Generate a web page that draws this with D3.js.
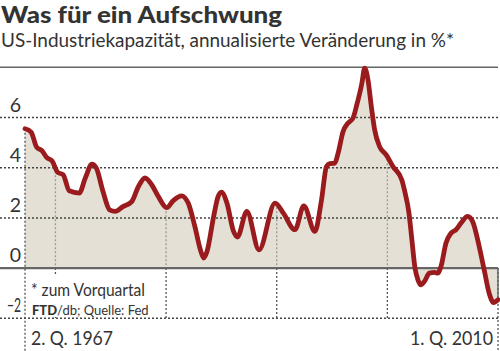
<!DOCTYPE html>
<html><head><meta charset="utf-8">
<script src="https://cdn.jsdelivr.net/npm/d3@7"></script>
<style>body{margin:0;background:#fff}svg{display:block}text{font-family:Lato,"Open Sans",sans-serif;fill:#333}</style>
</head><body>
<script>
const years = [1967.25,1967.8,1968.3,1968.8,1969.2,1969.7,1970.2,1970.7,1971.25,1972.15,1972.7,1973.3,1973.7,1974.3,1974.9,1975.4,1976.1,1976.9,1977.5,1978.1,1978.7,1979.3,1980.05,1980.65,1981.4,1982.0,1982.6,1983.1,1983.4,1983.7,1984.3,1984.7,1985.0,1985.5,1986.1,1986.45,1987.3,1988.4,1989.85,1990.6,1991.65,1992.45,1993.45,1994.05,1994.5,1994.8,1995.25,1995.55,1996.0,1996.45,1996.9,1997.2,1997.7,1997.95,1998.25,1998.55,1998.85,1999.3,1999.9,2000.5,2001.3,2001.6,2001.95,2002.2,2002.5,2002.75,2003.05,2003.35,2003.8,2004.25,2004.55,2004.85,2005.3,2005.75,2006.2,2006.65,2007.25,2007.7,2008.3,2008.75,2009.2,2009.6,2010.0];
const values = [5.55,5.42,4.82,4.67,4.41,4.27,3.82,3.72,3.08,2.99,3.59,4.14,3.98,3.05,2.32,2.26,2.45,2.65,3.25,3.59,3.32,2.85,2.41,2.69,2.88,2.59,1.66,0.73,0.40,0.66,2.06,2.85,3.03,2.59,1.46,1.24,2.26,0.73,2.59,2.19,1.53,2.48,1.46,2.72,4.05,4.16,4.18,4.58,5.44,5.78,5.98,6.44,7.37,7.97,7.5,6.44,5.51,4.84,4.51,4.05,3.52,3.0,2.2,1.2,0.0,-0.45,-0.67,-0.53,-0.2,-0.17,-0.2,0.07,1.0,1.39,1.53,1.79,2.06,1.86,0.86,-0.07,-1.0,-1.37,-1.26];
const yTicks = [-2,0,2,4,6];
const decades = [1970,1980,1990,2000];
const startLabel = "2. Q. 1967";
const endLabel = "1. Q. 2010";
const title = "Was für ein Aufschwung";
const subtitle = "US-Industriekapazität, annualisierte Veränderung in %*";

const W=500,H=351;
const data = years.map((y,i)=>({t:y,v:values[i]}));
const x = d3.scaleLinear().domain([1967.25,2010]).range([25,498]);
const y = d3.scaleLinear().domain([-2,8]).range([318.3,67.3]);
const svg = d3.select("body").append("svg").attr("width",W).attr("height",H);

svg.append("text").attr("x",1).attr("y",22.5).attr("font-size",22.5).attr("font-weight",900)
  .attr("textLength",281).attr("lengthAdjust","spacingAndGlyphs").text(title);
svg.append("text").attr("x",1).attr("y",47).attr("font-size",19.5)
  .attr("textLength",453).attr("lengthAdjust","spacingAndGlyphs").text(subtitle);

const curve = d3.curveMonotoneX;
const area = d3.area().x(d=>x(d.t)).y0(y(0)).y1(d=>y(d.v)).curve(curve);
const line = d3.line().x(d=>x(d.t)).y(d=>y(d.v)).curve(curve);

svg.append("clipPath").attr("id","ac").append("path").attr("d",area(data));
svg.append("path").attr("d",area(data)).attr("fill","#e5e0d6");

svg.append("g").attr("clip-path","url(#ac)").selectAll("line").data(decades).join("line")
  .attr("x1",d=>x(d)).attr("x2",d=>x(d)).attr("y1",y(8)).attr("y2",y(0))
  .attr("stroke","#999").attr("stroke-width",1.3).attr("stroke-dasharray","2,2");
svg.append("g").selectAll("line").data(decades).join("line")
  .attr("x1",d=>x(d)).attr("x2",d=>x(d)).attr("y1",y(0)).attr("y2",y(-2))
  .attr("stroke","#555").attr("stroke-width",1.3).attr("stroke-dasharray","2,2");

svg.append("line").attr("x1",x(1967.25)).attr("x2",x(1967.25)).attr("y1",y(values[0])).attr("y2",H)
  .attr("stroke","#555").attr("stroke-width",1.3).attr("stroke-dasharray","2,2");
svg.append("line").attr("x1",x(2010)).attr("x2",x(2010)).attr("y1",y(0)).attr("y2",H)
  .attr("stroke","#555").attr("stroke-width",1.3).attr("stroke-dasharray","2,2");
svg.append("line").attr("x1",x(2010)).attr("x2",x(2010)).attr("y1",y(0)).attr("y2",y(values[values.length-1]))
  .attr("stroke","#666").attr("stroke-width",1.5);

svg.append("g").selectAll("line").data(yTicks.filter(d=>d!==0)).join("line")
  .attr("x1",0).attr("x2",498).attr("y1",d=>y(d)).attr("y2",d=>y(d))
  .attr("stroke","#444").attr("stroke-width",1.5).attr("stroke-dasharray","2,2");
svg.append("line").attr("x1",0).attr("x2",498).attr("y1",y(0)).attr("y2",y(0))
  .attr("stroke","#666").attr("stroke-width",2.2);
svg.append("line").attr("x1",0).attr("x2",498).attr("y1",y(8)).attr("y2",y(8))
  .attr("stroke","#666").attr("stroke-width",1.5);

svg.append("rect").attr("x",27).attr("y",274).attr("width",137).attr("height",43).attr("fill","#fff");
svg.append("text").attr("x",31).attr("y",296).attr("font-size",17.5).attr("textLength",114).attr("lengthAdjust","spacingAndGlyphs").text("* zum Vorquartal");
const src = svg.append("text").attr("x",32).attr("y",315).attr("font-size",13);
src.append("tspan").attr("font-weight",900).text("FTD");
src.append("tspan").text("/db; Quelle: Fed");

svg.append("g").selectAll("text").data(yTicks).join("text")
  .attr("x",d=>d<0?7:21).attr("y",d=>y(d)-6).attr("text-anchor",d=>d<0?"start":"end").attr("font-size",19.5)
  .each(function(d){ if(d<0) d3.select(this).attr("textLength",14).attr("lengthAdjust","spacingAndGlyphs"); })
  .text(d=>d<0?"\u2212"+Math.abs(d):d);

svg.append("path").attr("d",line(data)).attr("fill","none").attr("stroke","#9a1b1e")
  .attr("stroke-width",4.8).attr("stroke-linejoin","round").attr("stroke-linecap","round");

svg.append("text").attr("x",31).attr("y",345).attr("font-size",20).attr("textLength",82).attr("lengthAdjust","spacingAndGlyphs").text(startLabel);
svg.append("text").attr("x",410).attr("y",345).attr("font-size",18.5).attr("textLength",83).attr("lengthAdjust","spacingAndGlyphs").text(endLabel);
</script>
</body></html>
